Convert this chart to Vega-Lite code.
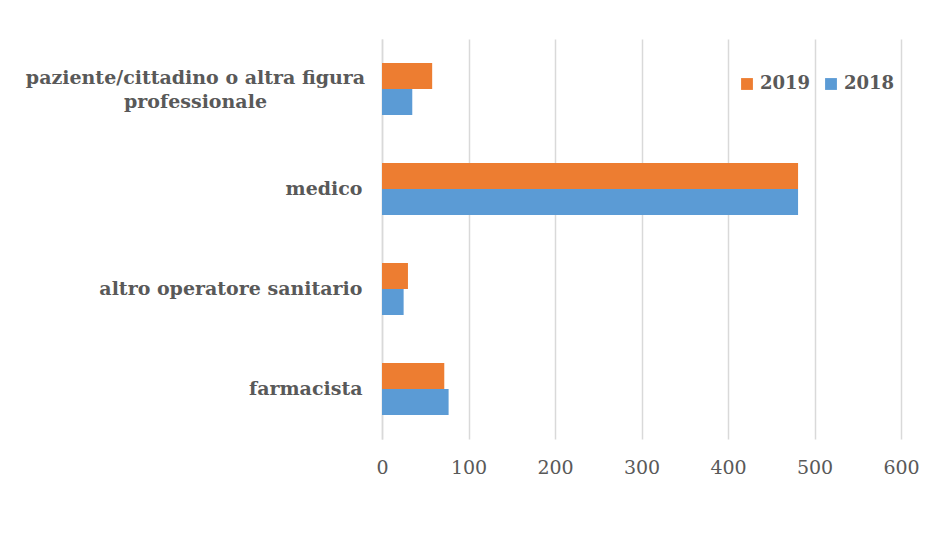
{
  "$schema": "https://vega.github.io/schema/vega-lite/v6.json",
  "width": 519,
  "height": 400,
  "autosize": {"type": "none"},
  "padding": {"left": 382, "top": 39, "right": 31, "bottom": 107},
  "background": "white",
  "data": {
    "values": [
      {"categoria": "paziente/cittadino o altra figura professionale", "anno": "2019", "valore": 58},
      {"categoria": "paziente/cittadino o altra figura professionale", "anno": "2018", "valore": 35},
      {"categoria": "medico", "anno": "2019", "valore": 481},
      {"categoria": "medico", "anno": "2018", "valore": 481},
      {"categoria": "altro operatore sanitario", "anno": "2019", "valore": 30},
      {"categoria": "altro operatore sanitario", "anno": "2018", "valore": 25},
      {"categoria": "farmacista", "anno": "2019", "valore": 72},
      {"categoria": "farmacista", "anno": "2018", "valore": 77}
    ]
  },
  "mark": {"type": "bar"},
  "encoding": {
    "y": {
      "field": "categoria",
      "type": "nominal",
      "sort": ["paziente/cittadino o altra figura professionale", "medico", "altro operatore sanitario", "farmacista"],
      "scale": {"paddingInner": 0.48, "paddingOuter": 0.24},
      "axis": {
        "title": null,
        "ticks": false,
        "domain": true,
        "domainColor": "#d9d9d9",
        "domainWidth": 1.5,
        "labelFont": "DejaVu Serif",
        "labelFontWeight": "bold",
        "labelFontSize": 19,
        "labelColor": "#595959",
        "labelLimit": 400,
        "labelLineHeight": 24,
        "labelExpr": "datum.value == 'paziente/cittadino o altra figura professionale' ? ['paziente/cittadino o altra figura', 'professionale'] : datum.label",
        "labelAlign": {"condition": {"test": "datum.value == 'paziente/cittadino o altra figura professionale'", "value": "center"}, "value": "right"},
        "labelPadding": {"condition": {"test": "datum.value == 'paziente/cittadino o altra figura professionale'", "value": 187}, "value": 20},
        "labelOffset": {"condition": {"test": "datum.value == 'paziente/cittadino o altra figura professionale'", "value": -11}, "value": 0}
      }
    },
    "yOffset": {"field": "anno", "type": "nominal", "sort": ["2019", "2018"]},
    "x": {
      "field": "valore",
      "type": "quantitative",
      "scale": {"domain": [0, 600], "nice": false},
      "axis": {
        "title": null,
        "values": [0, 100, 200, 300, 400, 500, 600],
        "grid": true,
        "gridColor": "#d9d9d9",
        "gridWidth": 1.5,
        "domain": false,
        "ticks": false,
        "labelFont": "DejaVu Serif",
        "labelFontSize": 19,
        "labelColor": "#595959",
        "labelPadding": 19,
        "labelFlush": false
      }
    },
    "color": {
      "field": "anno",
      "type": "nominal",
      "scale": {"domain": ["2019", "2018"], "range": ["#ED7D31", "#5B9BD5"]},
      "legend": {
        "title": null,
        "orient": "none",
        "direction": "horizontal",
        "legendX": 356,
        "legendY": 36,
        "symbolType": "square",
        "symbolSize": 140,
        "symbolStrokeWidth": 0,
        "labelFont": "DejaVu Serif",
        "labelFontWeight": "bold",
        "labelFontSize": 18,
        "labelColor": "#595959",
        "columnPadding": 11,
        "labelOffset": 4
      }
    }
  },
  "config": {"view": {"stroke": null}}
}
